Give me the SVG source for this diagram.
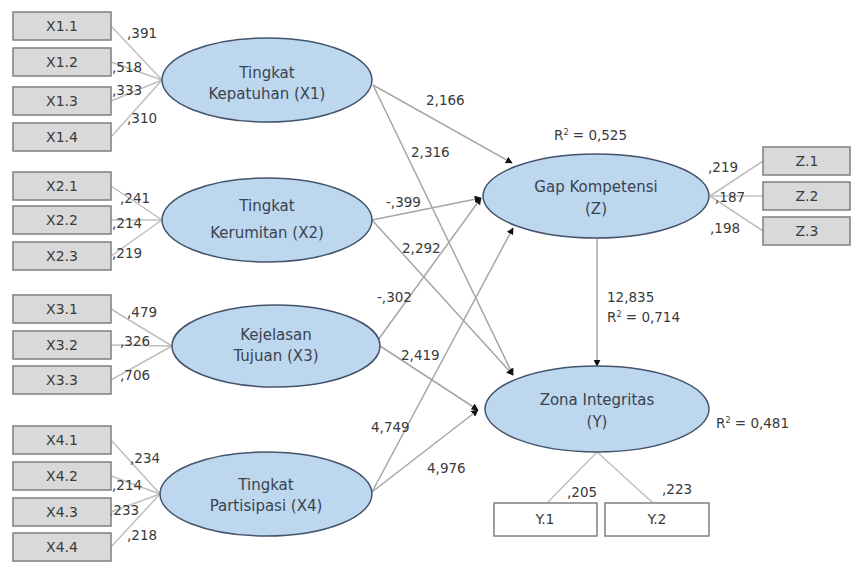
<svg xmlns="http://www.w3.org/2000/svg" width="853" height="562" viewBox="0 0 853 562">
<style>
.box{fill:#d9d9d9;stroke:#7f7f7f;stroke-width:1.5}
.wbox{fill:#ffffff;stroke:#7f7f7f;stroke-width:1.5}
.ell{fill:#bdd7ee;stroke:#44546a;stroke-width:1.5}
.ld{stroke:#bfbfbf;stroke-width:1.5;fill:none}
.pth{stroke:#a6a6a6;stroke-width:1.5;fill:none;marker-end:url(#ah)}
.t{font-family:"DejaVu Sans",sans-serif;font-size:13.5px;fill:#3a3a3a}
.n{font-family:"DejaVu Sans",sans-serif;font-size:15px;fill:#3a4350;text-anchor:middle}
.lab{font-family:"DejaVu Sans",sans-serif;font-size:14px;fill:#3a3a3a;text-anchor:middle}
</style>
<defs>
<marker id="ah" viewBox="0 0 10 10" refX="9" refY="5" markerWidth="7" markerHeight="7" markerUnits="userSpaceOnUse" orient="auto">
<path d="M0,0 L10,5 L0,10 z" fill="#111"/>
</marker>
</defs>
<rect width="853" height="562" fill="#ffffff"/>
<g id="connectors">
<line class="ld" x1="111" y1="26" x2="162" y2="80"/>
<line class="ld" x1="111" y1="62" x2="162" y2="80"/>
<line class="ld" x1="111" y1="101" x2="162" y2="80"/>
<line class="ld" x1="111" y1="137" x2="162" y2="80"/>
<line class="ld" x1="111" y1="186" x2="162" y2="220"/>
<line class="ld" x1="111" y1="220" x2="162" y2="220"/>
<line class="ld" x1="111" y1="256" x2="162" y2="220"/>
<line class="ld" x1="111" y1="309" x2="172" y2="346"/>
<line class="ld" x1="111" y1="345" x2="172" y2="346"/>
<line class="ld" x1="111" y1="380" x2="172" y2="346"/>
<line class="ld" x1="111" y1="440" x2="160" y2="494"/>
<line class="ld" x1="111" y1="476" x2="160" y2="494"/>
<line class="ld" x1="111" y1="512" x2="160" y2="494"/>
<line class="ld" x1="111" y1="547" x2="160" y2="494"/>
<line class="ld" x1="710" y1="196" x2="763" y2="161"/>
<line class="ld" x1="710" y1="196" x2="763" y2="196"/>
<line class="ld" x1="710" y1="196" x2="763" y2="231"/>
<line class="ld" x1="597" y1="452" x2="547" y2="503"/>
<line class="ld" x1="597" y1="452" x2="653" y2="503"/>
<line class="pth" x1="373" y1="85" x2="512" y2="163"/>
<line class="pth" x1="373" y1="85" x2="513" y2="375"/>
<line class="pth" x1="372" y1="220" x2="481" y2="198"/>
<line class="pth" x1="372" y1="220" x2="513" y2="375"/>
<line class="pth" x1="378" y1="340" x2="481" y2="198"/>
<line class="pth" x1="380" y1="346" x2="478" y2="410"/>
<line class="pth" x1="372" y1="492" x2="513" y2="228"/>
<line class="pth" x1="372" y1="492" x2="478" y2="410"/>
<line class="pth" x1="597" y1="238" x2="597" y2="366"/>
<text class="t" x="127" y="38">,391</text>
<text class="t" x="112" y="72">,518</text>
<text class="t" x="112" y="95">,333</text>
<text class="t" x="127" y="123">,310</text>
<text class="t" x="120" y="203">,241</text>
<text class="t" x="112" y="228">,214</text>
<text class="t" x="112" y="258">,219</text>
<text class="t" x="127" y="317">,479</text>
<text class="t" x="120" y="346">,326</text>
<text class="t" x="120" y="380">,706</text>
<text class="t" x="130" y="463">,234</text>
<text class="t" x="112" y="490">,214</text>
<text class="t" x="109" y="515">,233</text>
<text class="t" x="127" y="540">,218</text>
<text class="t" x="708" y="172">,219</text>
<text class="t" x="715" y="202">,187</text>
<text class="t" x="710" y="233">,198</text>
<text class="t" x="567" y="497">,205</text>
<text class="t" x="662" y="494">,223</text>
<text class="t" x="426" y="105">2,166</text>
<text class="t" x="411" y="157">2,316</text>
<text class="t" x="386" y="207">-,399</text>
<text class="t" x="402" y="253">2,292</text>
<text class="t" x="377" y="302">-,302</text>
<text class="t" x="401" y="360">2,419</text>
<text class="t" x="371" y="432">4,749</text>
<text class="t" x="427" y="473">4,976</text>
<text class="t" x="607" y="302">12,835</text>
<text class="t" x="607" y="322">R<tspan font-size="8" dy="-5">2</tspan><tspan dy="5"> = 0,714</tspan></text>
<text class="t" x="554" y="140">R<tspan font-size="8" dy="-5">2</tspan><tspan dy="5"> = 0,525</tspan></text>
<text class="t" x="716" y="428">R<tspan font-size="8" dy="-5">2</tspan><tspan dy="5"> = 0,481</tspan></text>
</g>
<g id="X1.1"><rect class="box" x="13" y="12" width="98" height="28"/><text class="lab" x="62" y="31">X1.1</text></g>
<g id="X1.2"><rect class="box" x="13" y="48" width="98" height="28"/><text class="lab" x="62" y="67">X1.2</text></g>
<g id="X1.3"><rect class="box" x="13" y="87" width="98" height="28"/><text class="lab" x="62" y="106">X1.3</text></g>
<g id="X1.4"><rect class="box" x="13" y="123" width="98" height="28"/><text class="lab" x="62" y="142">X1.4</text></g>
<g id="X2.1"><rect class="box" x="13" y="172" width="98" height="28"/><text class="lab" x="62" y="191">X2.1</text></g>
<g id="X2.2"><rect class="box" x="13" y="206" width="98" height="28"/><text class="lab" x="62" y="225">X2.2</text></g>
<g id="X2.3"><rect class="box" x="13" y="242" width="98" height="28"/><text class="lab" x="62" y="261">X2.3</text></g>
<g id="X3.1"><rect class="box" x="13" y="295" width="98" height="28"/><text class="lab" x="62" y="314">X3.1</text></g>
<g id="X3.2"><rect class="box" x="13" y="331" width="98" height="28"/><text class="lab" x="62" y="350">X3.2</text></g>
<g id="X3.3"><rect class="box" x="13" y="366" width="98" height="28"/><text class="lab" x="62" y="385">X3.3</text></g>
<g id="X4.1"><rect class="box" x="13" y="426" width="98" height="28"/><text class="lab" x="62" y="445">X4.1</text></g>
<g id="X4.2"><rect class="box" x="13" y="462" width="98" height="28"/><text class="lab" x="62" y="481">X4.2</text></g>
<g id="X4.3"><rect class="box" x="13" y="498" width="98" height="28"/><text class="lab" x="62" y="517">X4.3</text></g>
<g id="X4.4"><rect class="box" x="13" y="533" width="98" height="28"/><text class="lab" x="62" y="552">X4.4</text></g>
<g id="Z.1"><rect class="box" x="763" y="147" width="87" height="28"/><text class="lab" x="807" y="166">Z.1</text></g>
<g id="Z.2"><rect class="box" x="763" y="182" width="87" height="28"/><text class="lab" x="807" y="201">Z.2</text></g>
<g id="Z.3"><rect class="box" x="763" y="217" width="87" height="28"/><text class="lab" x="807" y="236">Z.3</text></g>
<g id="Y.1"><rect class="wbox" x="494" y="503" width="103" height="33"/><text class="lab" x="545" y="524">Y.1</text></g>
<g id="Y.2"><rect class="wbox" x="605" y="503" width="104" height="33"/><text class="lab" x="657" y="524">Y.2</text></g>
<g id="X1"><ellipse class="ell" cx="267" cy="80" rx="105" ry="42"/><text class="n" x="267" y="78">Tingkat</text><text class="n" x="267" y="99">Kepatuhan (X1)</text></g>
<g id="X2"><ellipse class="ell" cx="267" cy="220" rx="105" ry="42"/><text class="n" x="267" y="211">Tingkat</text><text class="n" x="267" y="238">Kerumitan (X2)</text></g>
<g id="X3"><ellipse class="ell" cx="276" cy="346" rx="104" ry="41"/><text class="n" x="276" y="340">Kejelasan</text><text class="n" x="276" y="361">Tujuan (X3)</text></g>
<g id="X4"><ellipse class="ell" cx="266" cy="494" rx="106" ry="42"/><text class="n" x="266" y="490">Tingkat</text><text class="n" x="266" y="511">Partisipasi (X4)</text></g>
<g id="Z"><ellipse class="ell" cx="596" cy="196" rx="113" ry="42"/><text class="n" x="596" y="192">Gap Kompetensi</text><text class="n" x="596" y="214">(Z)</text></g>
<g id="Y"><ellipse class="ell" cx="597" cy="409" rx="112" ry="43"/><text class="n" x="597" y="405">Zona Integritas</text><text class="n" x="597" y="427">(Y)</text></g>
</svg>
